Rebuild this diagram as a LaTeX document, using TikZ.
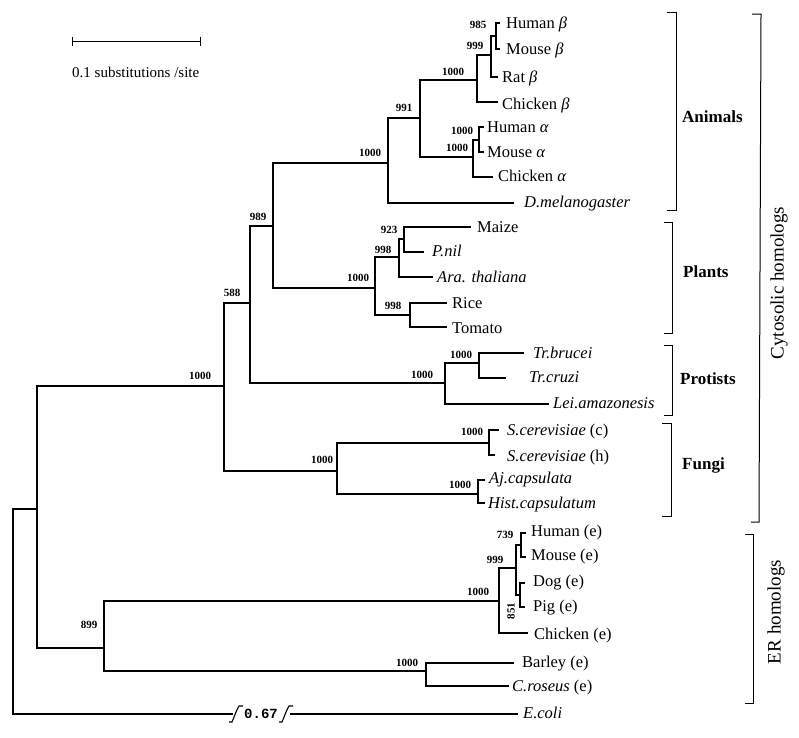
\documentclass[tikz,border=0pt]{standalone}
\usepackage{fontspec}
\setmainfont{Liberation Serif}
\newfontfamily\zeromono{Liberation Mono}
\usetikzlibrary{arrows.meta}
\newcommand\leaffont{\fontsize{16.5}{18}\selectfont}
\newcommand\bootfont{\fontsize{11}{12}\selectfont\bfseries}
\newcommand\cladefont{\fontsize{17}{19}\selectfont\bfseries}
\newcommand\sidefont{\fontsize{19}{21}\selectfont}
\tikzset{
  treeline/.style={line width=1.1pt, line cap=rect},
  leaf/.style={anchor=base west, inner sep=0pt, yshift=-5.5pt, font=\leaffont},
  boot/.style={inner sep=0pt, font=\bootfont},
  clade/.style={anchor=base west, inner sep=0pt, yshift=-6pt, font=\cladefont},
  side/.style={inner sep=0pt, rotate=90, font=\sidefont},
}

\begin{document}
\begin{tikzpicture}[x=1pt,y=-1pt]
  \useasboundingbox (0,0) rectangle (799,737);

  % scale bar
  \coordinate (sbL) at (72,41);
  \coordinate (sbR) at (201,41);
  \draw[line width=1pt, {Bar[width=9pt]}-{Bar[width=9pt]}] (sbL) -- (sbR);
  \node[anchor=west, inner sep=0pt, font=\fontsize{15}{17}\selectfont] (sbtext) at (72,72) {0.1 substitutions /site};

  % internal nodes: (x of the vertical, y of the stub)
  \coordinate (nRoot)   at (13,714);
  \coordinate (nEuk)    at (37,509);
  \coordinate (nCyto)   at (224,386);
  \coordinate (n588)    at (250,303);
  \coordinate (n989)    at (273,226);
  \coordinate (nAnim)   at (388,163);
  \coordinate (n991)    at (420,118);
  \coordinate (nBeta)   at (477,80);
  \coordinate (n999b)   at (491,55);
  \coordinate (n985)    at (496,36);
  \coordinate (nAlpha)  at (473,157);
  \coordinate (nAlphaI) at (479,140);
  \coordinate (nPlant)  at (375,288);
  \coordinate (n998a)   at (399,257);
  \coordinate (n923)    at (404,239);
  \coordinate (nRT)     at (410,315);
  \coordinate (nProt)   at (445,383);
  \coordinate (nTr)     at (479,363);
  \coordinate (nFungi)  at (337,471);
  \coordinate (nSc)     at (489,443);
  \coordinate (nAj)     at (478,494);
  \coordinate (n899)    at (104,648);
  \coordinate (nERa)    at (499,601);
  \coordinate (n999e)   at (516,568);
  \coordinate (n739)    at (521,545);
  \coordinate (n851)    at (520,595);
  \coordinate (nERp)    at (426,671);

  % tips
  \coordinate (tHb)  at (499,23);
  \coordinate (tMb)  at (499,49);
  \coordinate (tRb)  at (497,77);
  \coordinate (tCb)  at (497,102);
  \coordinate (tHa)  at (483,127);
  \coordinate (tMa)  at (483,152);
  \coordinate (tCa)  at (492,177);
  \coordinate (tDm)  at (513,203);
  \coordinate (tMz)  at (470,227);
  \coordinate (tPn)  at (423,252);
  \coordinate (tAt)  at (432,277);
  \coordinate (tRi)  at (446,303);
  \coordinate (tTo)  at (446,327);
  \coordinate (tTb)  at (523,353);
  \coordinate (tTc)  at (505,378);
  \coordinate (tLa)  at (548,404);
  \coordinate (tScc) at (498,430);
  \coordinate (tSch) at (494,455);
  \coordinate (tAj)  at (484,480);
  \coordinate (tHi)  at (484,503);
  \coordinate (tHe)  at (525,533);
  \coordinate (tMe)  at (525,557);
  \coordinate (tDo)  at (524,583);
  \coordinate (tPi)  at (524,607);
  \coordinate (tCe)  at (527,633);
  \coordinate (tBa)  at (513,663);
  \coordinate (tCr)  at (508,686);
  \coordinate (tEc)  at (517,714);

  % branches
  \draw[treeline]
    (nRoot) |- (nEuk)
    (nEuk) |- (nCyto)  (nEuk) |- (n899)
    (nCyto) |- (n588)  (nCyto) |- (nFungi)
    (n588) |- (n989)   (n588) |- (nProt)
    (n989) |- (nAnim)  (n989) |- (nPlant)
    (nAnim) |- (n991)  (nAnim) |- (tDm)
    (n991) |- (nBeta)  (n991) |- (nAlpha)
    (nBeta) |- (n999b) (nBeta) |- (tCb)
    (n999b) |- (n985)  (n999b) |- (tRb)
    (n985) |- (tHb)    (n985) |- (tMb)
    (nAlpha) |- (nAlphaI) (nAlpha) |- (tCa)
    (nAlphaI) |- (tHa) (nAlphaI) |- (tMa)
    (nPlant) |- (n998a) (nPlant) |- (nRT)
    (n998a) |- (n923)  (n998a) |- (tAt)
    (n923) |- (tMz)    (n923) |- (tPn)
    (nRT) |- (tRi)     (nRT) |- (tTo)
    (nProt) |- (nTr)   (nProt) |- (tLa)
    (nTr) |- (tTb)     (nTr) |- (tTc)
    (nFungi) |- (nSc)  (nFungi) |- (nAj)
    (nSc) |- (tScc)    (nSc) |- (tSch)
    (nAj) |- (tAj)     (nAj) |- (tHi)
    (n899) |- (nERa)   (n899) |- (nERp)
    (nERa) |- (n999e)  (nERa) |- (tCe)
    (n999e) |- (n739)  (n999e) |- (n851)
    (n739) |- (tHe)    (n739) |- (tMe)
    (n851) |- (tDo)    (n851) |- (tPi)
    (nERp) |- (tBa)    (nERp) |- (tCr);

  % E. coli branch, broken
  \coordinate (brkL) at (232,714);
  \coordinate (brkR) at (291,714);
  \draw[treeline] (nRoot) -- (brkL);
  \draw[treeline] (brkR) -- (tEc);
  \draw[line width=1.1pt] (229,722) -- (232,722) .. controls (235,715) and (236,711) .. (239,706) -- (243,706);
  \draw[line width=1.1pt] (279,722) -- (282,722) .. controls (285,715) and (286,711) .. (289,706) -- (293,706);
  \node[inner sep=0pt, font=\zeromono\bfseries\fontsize{14}{16}\selectfont] (brk) at (261,714) {0.67};

  % leaf labels
  \node[leaf] (lHb)  at (506,23)  {Human \textit{β}};
  \node[leaf] (lMb)  at (506,49)  {Mouse \textit{β}};
  \node[leaf] (lRb)  at (502,77)  {Rat \textit{β}};
  \node[leaf] (lCb)  at (502,104) {Chicken \textit{β}};
  \node[leaf] (lHa)  at (487,127) {Human \textit{α}};
  \node[leaf] (lMa)  at (487,152) {Mouse \textit{α}};
  \node[leaf] (lCa)  at (498,176) {Chicken \textit{α}};
  \node[leaf] (lDm)  at (524,202) {\textit{D.melanogaster}};
  \node[leaf] (lMz)  at (477,227) {Maize};
  \node[leaf] (lPn)  at (432,251) {\textit{P.nil}};
  \node[leaf] (lAt)  at (437,277) {\textit{Ara. thaliana}};
  \node[leaf] (lRi)  at (452,303) {Rice};
  \node[leaf] (lTo)  at (452,328) {Tomato};
  \node[leaf] (lTb)  at (533,353) {\textit{Tr.brucei}};
  \node[leaf] (lTc)  at (529,377) {\textit{Tr.cruzi}};
  \node[leaf] (lLa)  at (553,403) {\textit{Lei.amazonesis}};
  \node[leaf] (lScc) at (507,430) {\textit{S.cerevisiae} (c)};
  \node[leaf] (lSch) at (507,456) {\textit{S.cerevisiae} (h)};
  \node[leaf] (lAj)  at (489,478) {\textit{Aj.capsulata}};
  \node[leaf] (lHi)  at (488,503) {\textit{Hist.capsulatum}};
  \node[leaf] (lHe)  at (531,531) {Human (e)};
  \node[leaf] (lMe)  at (531,555) {Mouse (e)};
  \node[leaf] (lDo)  at (533,581) {Dog (e)};
  \node[leaf] (lPi)  at (533,606) {Pig (e)};
  \node[leaf] (lCe)  at (534,634) {Chicken (e)};
  \node[leaf] (lBa)  at (522,662) {Barley (e)};
  \node[leaf] (lCr)  at (512,686) {\textit{C.roseus} (e)};
  \node[leaf] (lEc)  at (523,713) {\textit{E.coli}};

  % bootstrap values
  \node[boot] (b985)   at (478,25)  {985};
  \node[boot] (b999b)  at (475,46)  {999};
  \node[boot] (bBeta)  at (453,72)  {1000};
  \node[boot] (b991)   at (404,108) {991};
  \node[boot] (bAlI)   at (462,131) {1000};
  \node[boot] (bAl)    at (457,148) {1000};
  \node[boot] (bAnim)  at (370,153) {1000};
  \node[boot] (b989)   at (258,217) {989};
  \node[boot] (b923)   at (389,230) {923};
  \node[boot] (b998a)  at (383,250) {998};
  \node[boot] (bPlant) at (358,278) {1000};
  \node[boot] (b998b)  at (393,306) {998};
  \node[boot] (b588)   at (232,293) {588};
  \node[boot] (bTr)    at (461,355) {1000};
  \node[boot] (bProt)  at (422,375) {1000};
  \node[boot] (bCyto)  at (200,376) {1000};
  \node[boot] (bSc)    at (472,432) {1000};
  \node[boot] (bFungi) at (322,460) {1000};
  \node[boot] (bAj)    at (460,485) {1000};
  \node[boot] (b739)   at (505,535) {739};
  \node[boot] (b999e)  at (495,560) {999};
  \node[boot] (bERa)   at (478,592) {1000};
  \node[boot, rotate=90] (b851) at (511,611) {851};
  \node[boot] (b899)   at (89,625)  {899};
  \node[boot] (bERp)   at (407,663) {1000};

  % clade brackets
  \draw[line width=1pt] (667,12) -- (676,12) -- (676,210) -- (667,210);
  \draw[line width=1pt] (664,222) -- (672,222) -- (672,333) -- (664,333);
  \draw[line width=1pt] (664,345) -- (672,345) -- (672,415) -- (664,415);
  \draw[line width=1pt] (662,423) -- (671,423) -- (671,516) -- (662,516);
  \draw[line width=1pt] (752,14) -- (761,14) -- (759,522) -- (751,522);
  \draw[line width=1pt] (745,534) -- (753,534) -- (753,703) -- (745,703);

  \node[clade] (cAnim)  at (682,116) {Animals};
  \node[clade] (cPlant) at (683,271) {Plants};
  \node[clade] (cProt)  at (680,378) {Protists};
  \node[clade] (cFungi) at (682,463) {Fungi};
  \node[side] (sCyto) at (779,283) {Cytosolic homologs};
  \node[side] (sER)   at (776,612) {ER homologs};
\end{tikzpicture}
\end{document}
